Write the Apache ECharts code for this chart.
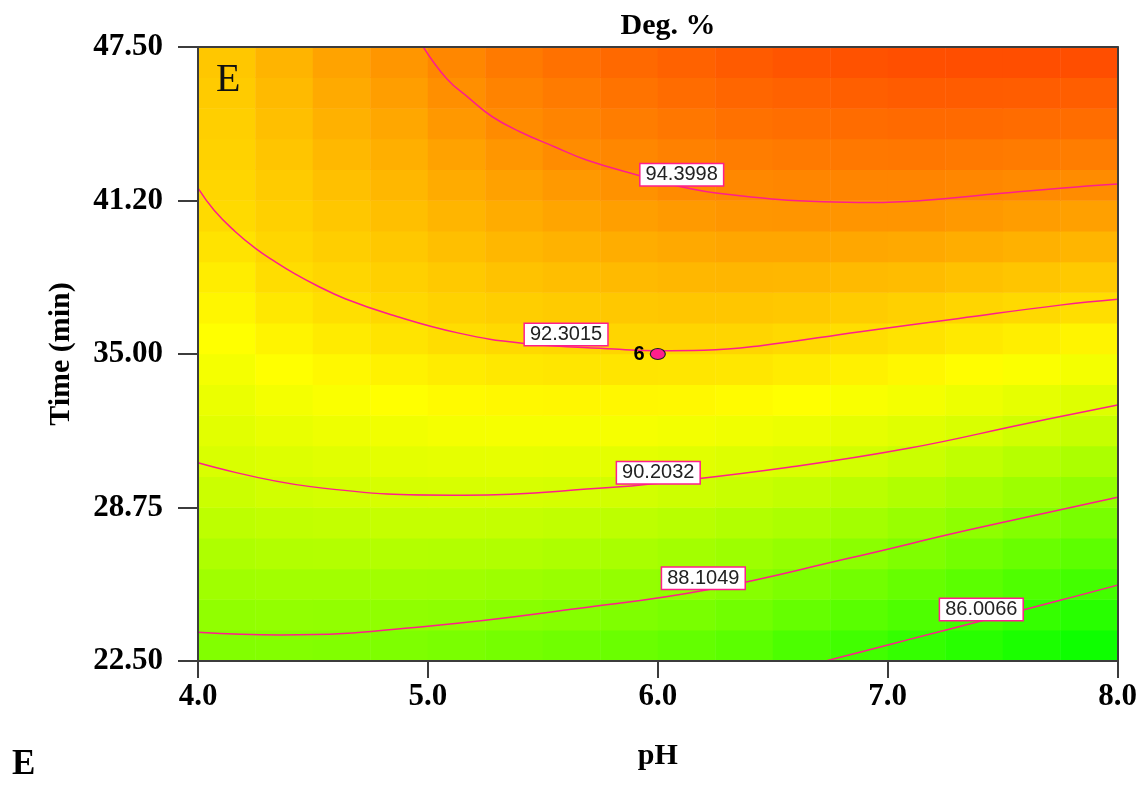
<!DOCTYPE html>
<html>
<head>
<meta charset="utf-8">
<script src="https://cdn.jsdelivr.net/npm/echarts@6/dist/echarts.min.js"></script>
<style>
html, body { margin: 0; padding: 0; background: #fff; }
#main { width: 1140px; height: 785px; }
</style>
</head>
<body>
<div id="main"></div>
<script>
// cell centres of the response surface (pH across, time up)
var phCells = [4.125, 4.375, 4.625, 4.875, 5.125, 5.375, 5.625, 5.875,
               6.125, 6.375, 6.625, 6.875, 7.125, 7.375, 7.625, 7.875];
var timeCells = [23.125, 24.375, 25.625, 26.875, 28.125, 29.375, 30.625, 31.875, 33.125, 34.375,
                 35.625, 36.875, 38.125, 39.375, 40.625, 41.875, 43.125, 44.375, 45.625, 46.875];

// Deg. %, one row per time cell (bottom row first)
var degRows = [
  [87.93, 87.95, 87.88, 87.81, 87.71, 87.57, 87.43, 87.27, 87.09, 86.86, 86.46, 86.15, 85.82, 85.48, 85.13, 84.78],
  [88.33, 88.37, 88.34, 88.30, 88.23, 88.12, 87.99, 87.84, 87.68, 87.46, 87.13, 86.81, 86.50, 86.17, 85.83, 85.49],
  [88.73, 88.79, 88.79, 88.77, 88.73, 88.65, 88.54, 88.41, 88.26, 88.06, 87.79, 87.48, 87.17, 86.86, 86.54, 86.20],
  [89.12, 89.21, 89.24, 89.25, 89.23, 89.18, 89.08, 88.96, 88.82, 88.65, 88.43, 88.15, 87.85, 87.55, 87.24, 86.92],
  [89.51, 89.63, 89.69, 89.72, 89.74, 89.70, 89.63, 89.52, 89.39, 89.23, 89.05, 88.80, 88.53, 88.23, 87.95, 87.64],
  [89.90, 90.05, 90.14, 90.20, 90.23, 90.23, 90.17, 90.08, 89.95, 89.82, 89.66, 89.44, 89.20, 88.92, 88.64, 88.35],
  [90.26, 90.39, 90.49, 90.56, 90.63, 90.65, 90.62, 90.57, 90.48, 90.38, 90.26, 90.09, 89.87, 89.60, 89.33, 89.05],
  [90.52, 90.70, 90.83, 90.93, 91.03, 91.07, 91.07, 91.05, 90.98, 90.90, 90.78, 90.63, 90.47, 90.27, 90.02, 89.75],
  [90.77, 91.00, 91.16, 91.29, 91.43, 91.50, 91.52, 91.52, 91.49, 91.42, 91.30, 91.15, 91.00, 90.81, 90.62, 90.41],
  [91.03, 91.30, 91.50, 91.66, 91.82, 91.92, 91.97, 92.00, 91.99, 91.94, 91.81, 91.67, 91.52, 91.36, 91.18, 91.00],
  [91.29, 91.60, 91.83, 92.02, 92.22, 92.33, 92.39, 92.43, 92.45, 92.43, 92.33, 92.19, 92.05, 91.90, 91.75, 91.60],
  [91.54, 91.91, 92.16, 92.35, 92.51, 92.63, 92.72, 92.80, 92.85, 92.85, 92.79, 92.69, 92.58, 92.45, 92.32, 92.19],
  [91.80, 92.21, 92.42, 92.58, 92.77, 92.94, 93.06, 93.16, 93.25, 93.28, 93.25, 93.18, 93.10, 92.98, 92.86, 92.75],
  [92.05, 92.41, 92.62, 92.80, 93.03, 93.24, 93.39, 93.52, 93.64, 93.70, 93.71, 93.68, 93.63, 93.52, 93.41, 93.31],
  [92.30, 92.56, 92.81, 93.02, 93.30, 93.54, 93.73, 93.89, 94.04, 94.13, 94.17, 94.18, 94.16, 94.06, 93.95, 93.86],
  [92.40, 92.71, 93.01, 93.25, 93.56, 93.84, 94.06, 94.25, 94.43, 94.51, 94.57, 94.59, 94.60, 94.54, 94.47, 94.42],
  [92.51, 92.87, 93.21, 93.47, 93.82, 94.15, 94.40, 94.56, 94.71, 94.82, 94.90, 94.94, 94.97, 94.93, 94.88, 94.83],
  [92.61, 93.02, 93.41, 93.69, 94.08, 94.44, 94.64, 94.83, 94.99, 95.13, 95.23, 95.28, 95.33, 95.32, 95.29, 95.25],
  [92.71, 93.17, 93.60, 93.92, 94.34, 94.66, 94.88, 95.10, 95.28, 95.44, 95.55, 95.63, 95.70, 95.71, 95.69, 95.67],
  [92.81, 93.32, 93.80, 94.14, 94.55, 94.89, 95.13, 95.37, 95.56, 95.75, 95.89, 95.98, 96.07, 96.10, 96.10, 96.09]
];

// contour lines as [pH, time] points
var c86 = [[6.73, 22.5], [7.09, 23.37], [7.41, 24.14], [7.75, 24.97], [8.0, 25.59]];
var c88 = [[4.0, 23.67], [4.36, 23.56], [5.01, 23.93], [5.66, 24.65], [6.21, 25.39],
           [6.83, 26.68], [7.35, 27.83], [8.0, 29.17]];
var c90 = [[4.0, 30.57], [4.49, 29.60], [5.16, 29.25], [5.79, 29.56], [6.0, 29.74],
           [6.57, 30.39], [7.09, 31.16], [7.61, 32.18], [8.0, 32.92]];
var c92 = [[4.0, 41.75], [4.07, 40.85], [4.16, 40.00], [4.25, 39.30], [4.335, 38.76],
           [4.42, 38.27], [4.51, 37.82], [4.64, 37.25], [4.84, 36.60], [5.13, 35.86],
           [5.41, 35.44], [5.81, 35.20], [6.0, 35.13], [6.2, 35.15], [6.44, 35.33],
           [6.88, 35.91], [7.31, 36.45], [7.75, 36.99], [8.0, 37.23]];
var c94 = [[4.98, 47.5], [5.08, 46.23], [5.18, 45.41], [5.28, 44.66], [5.40, 44.05],
           [5.55, 43.44], [5.69, 42.90], [5.91, 42.29], [6.10, 41.81], [6.30, 41.50],
           [6.72, 41.20], [6.93, 41.17], [7.15, 41.25], [7.46, 41.51], [7.75, 41.75], [8.0, 41.92]];

var contourNames = ['86.0066', '88.1049', '90.2032', '92.3015', '94.3998'];
var contourLines = [c86, c88, c90, c92, c94];
var contourLabelAt = [[7.407, 24.60], [6.198, 25.87], [6.002, 30.16], [5.601, 35.79], [6.104, 42.30]];

var designPoint = [6.0, 35.0];
var designLabel = '6';

var phTicks = ['4.0', '5.0', '6.0', '7.0', '8.0'];
var timeTicks = ['22.50', '28.75', '35.00', '41.20', '47.50'];

var heatData = [];
for (var r = 0; r < degRows.length; r++) {
  for (var c = 0; c < degRows[r].length; c++) {
    heatData.push([c, r, degRows[r][c]]);
  }
}

var serif = 'Liberation Serif';
var pink = '#ff1e8c';
var axisCol = '#3c3c3c';
var gridBox = { left: 198, right: 22, top: 47, bottom: 124 };

var series = [{
  type: 'heatmap',
  xAxisIndex: 0,
  yAxisIndex: 0,
  data: heatData,
  itemStyle: { borderWidth: 0 },
  emphasis: { disabled: true },
  z: 1
}];

contourLines.forEach(function (pts, i) {
  series.push({
    type: 'line',
    name: contourNames[i],
    xAxisIndex: 1,
    yAxisIndex: 1,
    data: pts,
    smooth: 0.45,
    showSymbol: false,
    silent: true,
    lineStyle: { color: pink, width: 1.5 },
    z: 3
  });
});

series.push({
  type: 'scatter',
  xAxisIndex: 1,
  yAxisIndex: 1,
  symbolSize: 0,
  silent: true,
  itemStyle: { opacity: 1 },
  data: contourLabelAt.map(function (p, i) {
    return { value: p, name: contourNames[i] };
  }),
  label: {
    show: true,
    position: 'inside',
    formatter: '{b}',
    fontFamily: 'Liberation Sans',
    fontSize: 20,
    lineHeight: 20,
    color: '#222',
    backgroundColor: '#ffffff',
    borderColor: pink,
    borderWidth: 1.5,
    padding: [1, 5, 0, 5]
  },
  z: 4
});

series.push({
  type: 'scatter',
  xAxisIndex: 1,
  yAxisIndex: 1,
  symbol: 'circle',
  symbolSize: [15, 11],
  silent: true,
  itemStyle: { color: pink, borderColor: '#222', borderWidth: 1, opacity: 1 },
  data: [{ value: designPoint, name: designLabel }],
  label: {
    show: true,
    position: 'left',
    distance: 5,
    formatter: '{b}',
    fontFamily: 'Liberation Sans',
    fontWeight: 'bold',
    fontSize: 20,
    color: '#000'
  },
  z: 5
});

var option = {
  backgroundColor: '#ffffff',
  animation: false,
  title: {
    text: 'Deg. %',
    left: 663,
    top: 6,
    textAlign: 'center',
    textStyle: { fontFamily: serif, fontWeight: 'bold', fontSize: 30, color: '#000' }
  },
  grid: [
    Object.assign({}, gridBox),
    Object.assign({}, gridBox)
  ],
  visualMap: {
    type: 'continuous',
    show: false,
    seriesIndex: 0,
    min: 84.4,
    max: 98.2,
    inRange: { color: ['#00ff00', '#ffff00', '#ff0000'] }
  },
  xAxis: [{
    gridIndex: 0,
    type: 'category',
    data: phCells,
    show: false
  }, {
    gridIndex: 1,
    type: 'value',
    position: 'bottom',
    min: 4,
    max: 8,
    interval: 1,
    z: 10,
    name: 'pH',
    nameLocation: 'middle',
    nameGap: 80,
    nameTextStyle: { fontFamily: serif, fontWeight: 'bold', fontSize: 30, color: '#000' },
    axisLine: { show: true, lineStyle: { color: axisCol, width: 2 } },
    axisTick: { show: true, inside: false, length: 17, lineStyle: { color: axisCol, width: 2 } },
    axisLabel: {
      margin: 20,
      fontFamily: serif, fontWeight: 'bold', fontSize: 31, color: '#000',
      formatter: function (v) { return phTicks[Math.round(v - 4)]; }
    },
    splitLine: { show: false }
  }, {
    gridIndex: 1,
    type: 'value',
    position: 'top',
    min: 4,
    max: 8,
    z: 10,
    axisLine: { show: true, lineStyle: { color: axisCol, width: 2 } },
    axisTick: { show: false },
    axisLabel: { show: false },
    splitLine: { show: false }
  }],
  yAxis: [{
    gridIndex: 0,
    type: 'category',
    data: timeCells,
    show: false
  }, {
    gridIndex: 1,
    type: 'value',
    position: 'left',
    min: 22.5,
    max: 47.5,
    interval: 6.25,
    z: 10,
    name: 'Time (min)',
    nameLocation: 'middle',
    nameGap: 122,
    nameTextStyle: { fontFamily: serif, fontWeight: 'bold', fontSize: 30, color: '#000' },
    axisLine: { show: true, lineStyle: { color: axisCol, width: 2 } },
    axisTick: { show: true, inside: false, length: 20, lineStyle: { color: axisCol, width: 2 } },
    axisLabel: {
      margin: 35,
      fontFamily: serif, fontWeight: 'bold', fontSize: 31, color: '#000',
      formatter: function (v) { return timeTicks[Math.round((v - 22.5) / 6.25)]; }
    },
    splitLine: { show: false }
  }, {
    gridIndex: 1,
    type: 'value',
    position: 'right',
    min: 22.5,
    max: 47.5,
    z: 10,
    axisLine: { show: true, lineStyle: { color: axisCol, width: 2 } },
    axisTick: { show: false },
    axisLabel: { show: false },
    splitLine: { show: false }
  }],
  graphic: [{
    type: 'text',
    left: 216,
    top: 60,
    z: 20,
    style: { text: 'E', fontFamily: serif, fontSize: 40, fill: '#111' }
  }, {
    type: 'text',
    left: 12,
    top: 747,
    z: 20,
    style: { text: 'E', fontFamily: serif, fontWeight: 'bold', fontSize: 35, fill: '#000' }
  }],
  series: series
};

var chart = echarts.init(document.getElementById('main'));
chart.setOption(option);
</script>
</body>
</html>
